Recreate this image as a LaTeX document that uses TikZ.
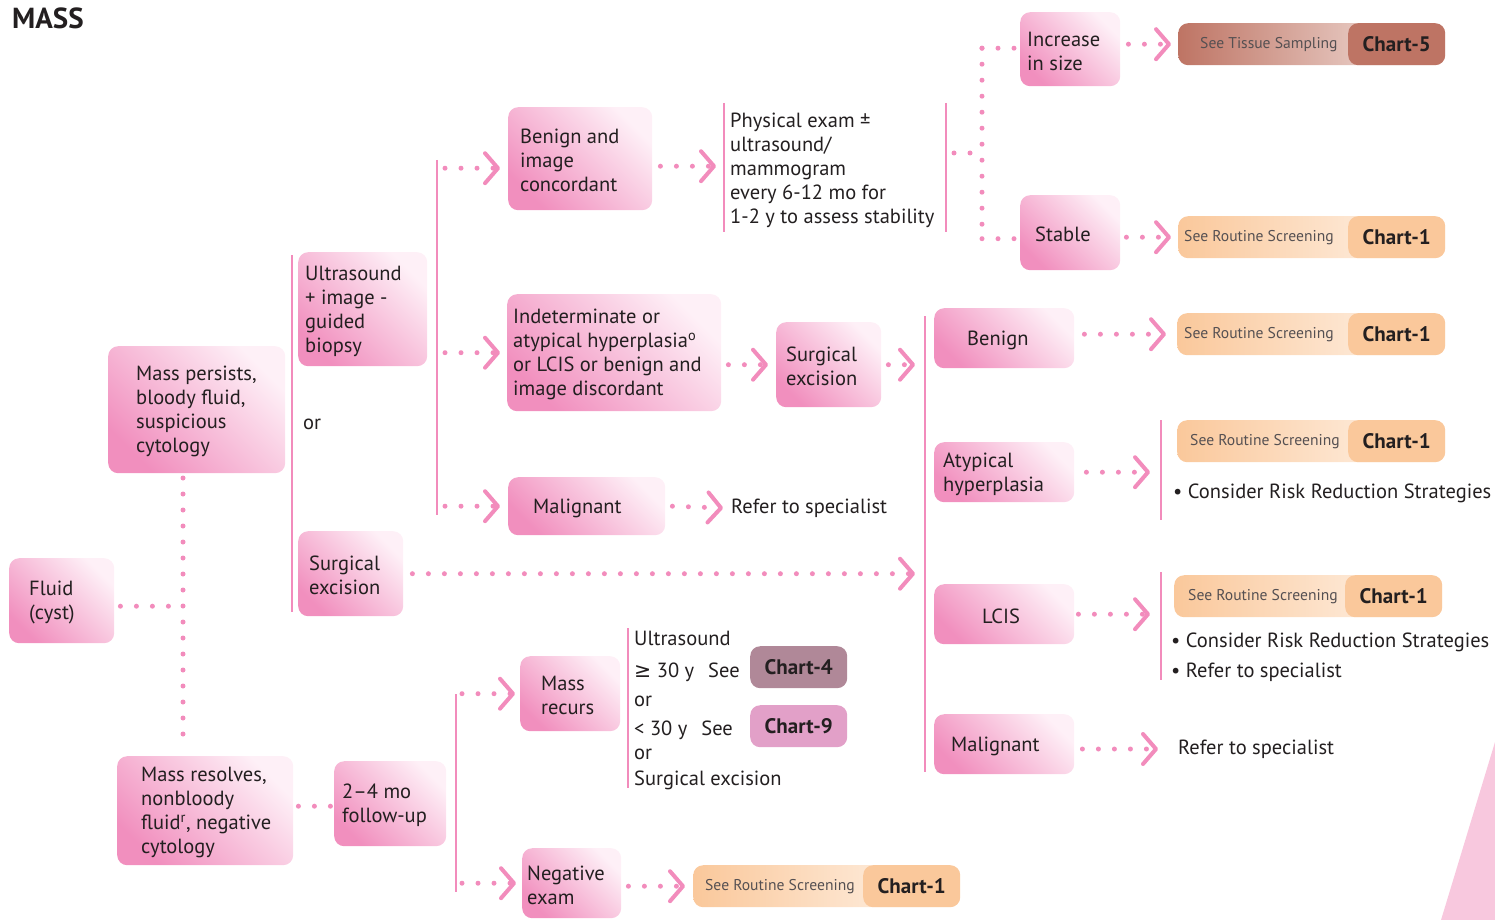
\documentclass[tikz,border=0pt]{standalone}
\usepackage{fontspec}
\setmainfont{PT Sans}
\newfontfamily\symfont{DejaVu Sans}
\usetikzlibrary{arrows.meta}
\definecolor{ink}{RGB}{35,31,32}
\definecolor{gray1}{RGB}{85,80,82}
\definecolor{lpink}{RGB}{242,140,188}
\definecolor{boxdark}{RGB}{241,143,190}
\definecolor{boxlight}{RGB}{254,240,247}
\definecolor{peach}{RGB}{250,200,155}
\definecolor{peachlight}{RGB}{255,246,238}
\definecolor{brownA}{RGB}{190,116,100}
\definecolor{brownlight}{RGB}{248,236,232}
\definecolor{mauve}{RGB}{176,136,152}
\definecolor{orchid}{RGB}{226,160,200}
\definecolor{tri}{RGB}{248,200,222}
\newcommand\myfont{\fontsize{20.5}{24}\selectfont}
\newcommand\mysmall{\fontsize{15.6}{18}\selectfont}
\newcommand\mytag{\fontsize{21}{22}\selectfont\bfseries}
\begin{document}
\begin{tikzpicture}[x=1pt,y=-1pt,
  pbox/.style={anchor=north west, rounded corners=10pt, bottom color=boxdark, top color=boxlight, shading angle=-45, inner sep=0pt},
  txt/.style={anchor=west, inner sep=0pt, font=\myfont, text=ink, align=left, yshift=-2pt},
  pillbase/.style={anchor=north west, rounded corners=10pt, minimum height=42, inner sep=0pt},
  ptxt/.style={anchor=west, inner sep=0pt, font=\mysmall, text=gray1},
  tagbox/.style={anchor=north east, rounded corners=10pt, minimum height=42, minimum width=97, inner sep=0pt, font=\mytag, text=ink},
  vline/.style={draw=lpink, line width=2.5pt},
  dots/.style={draw=lpink, line width=5pt, line cap=round, dash pattern=on 0pt off 16pt},
  darr/.style={dots, -{Straight Barb[length=13pt, width=30pt, line width=4pt, round]}}
]
\useasboundingbox (0,0) rectangle (1495,920);
\fill[tri] (1495,742) -- (1495,920) -- (1441,920) -- cycle;

\node[anchor=west, inner sep=0pt, font=\fontsize{29}{30}\selectfont\bfseries, text=ink] (title) at (12,18) {MASS};

% boxes
\node[pbox, minimum width=105, minimum height=85] (fluid) at (9,558) {};
\node[txt] (fluidT) at ([xshift=20pt]fluid.west) {Fluid\\(cyst)};
\node[pbox, minimum width=177, minimum height=127] (persists) at (108,346) {};
\node[txt] (persistsT) at ([xshift=28pt]persists.west) {Mass persists,\\bloody fluid,\\suspicious\\cytology};
\node[pbox, minimum width=176, minimum height=109] (resolves) at (117,756) {};
\node[txt] (resolvesT) at ([xshift=24pt]resolves.west) {Mass resolves,\\nonbloody\\fluid\textsuperscript{r}, negative\\cytology};
\node[pbox, minimum width=112, minimum height=85] (followup) at (334,761) {};
\node[txt] (followupT) at ([xshift=8pt]followup.west) {2--4 mo\\follow-up};
\node[pbox, minimum width=129, minimum height=114] (usb) at (298,252) {};
\node[txt] (usbT) at ([xshift=7pt]usb.west) {Ultrasound\\+ image -\\guided\\biopsy};
\node[txt] (or1) at (303,422) {or};
\node[pbox, minimum width=105, minimum height=85] (surgL) at (298,531) {};
\node[txt] (surgLT) at ([xshift=11pt]surgL.west) {Surgical\\excision};
\node[pbox, minimum width=144, minimum height=103] (bic) at (508,107) {};
\node[txt] (bicT) at ([xshift=12pt]bic.west) {Benign and\\image\\concordant};
\node[pbox, minimum width=214, minimum height=117] (indet) at (507,294) {};
\node[txt] (indetT) at ([xshift=6pt]indet.west) {Indeterminate or\\atypical hyperplasia\textsuperscript{o}\\or LCIS or benign and\\image discordant};
\node[pbox, minimum width=157, minimum height=58] (malig1) at (508,477) {};
\node[txt] (malig1T) at ([xshift=25pt]malig1.west) {Malignant};
\node[pbox, minimum width=105, minimum height=85] (surgM) at (776,322) {};
\node[txt] (surgMT) at ([xshift=10pt]surgM.west) {Surgical\\excision};
\node[txt] (ref1) at (731,506) {Refer to specialist};
\node[txt] (pe) at (730,168) {Physical exam ±\\ultrasound/\\mammogram\\every 6-12 mo for\\1-2 y to assess stability};
\node[pbox, minimum width=100, minimum height=74] (incr) at (1020,12) {};
\node[txt] (incrT) at ([xshift=7pt]incr.west) {Increase\\in size};
\node[pbox, minimum width=100, minimum height=75] (stable) at (1020,195) {};
\node[txt] (stableT) at ([xshift=15pt]stable.west) {Stable};
\node[pbox, minimum width=140, minimum height=60] (benign) at (934,308) {};
\node[txt] (benignT) at ([xshift=33pt]benign.west) {Benign};
\node[pbox, minimum width=140, minimum height=60] (atyp) at (934,442) {};
\node[txt] (atypT) at ([xshift=9pt]atyp.west) {Atypical\\hyperplasia};
\node[pbox, minimum width=140, minimum height=60] (lcis) at (934,584) {};
\node[txt] (lcisT) at ([xshift=48pt]lcis.west) {LCIS};
\node[pbox, minimum width=140, minimum height=60] (malig2) at (934,714) {};
\node[txt] (malig2T) at ([xshift=17pt]malig2.west) {Malignant};
\node[pbox, minimum width=100, minimum height=75] (recurs) at (520,656) {};
\node[txt] (recursT) at ([xshift=21pt]recurs.west) {Mass\\recurs};
\node[pbox, minimum width=99, minimum height=70] (negexam) at (522,848) {};
\node[txt] (negexamT) at ([xshift=5pt]negexam.west) {Negative\\exam};
\node[txt, anchor=north west] (ustext) at (634,629) {Ultrasound\\[8pt]{\symfont ≥} 30 y\hspace{14pt}See\\[5pt]or\\[5pt]< 30 y\hspace{14pt}See\\or\\[2pt]Surgical excision};
\node[tagbox, anchor=north west, fill=mauve] (c4) at (750,646) {Chart-4};
\node[tagbox, anchor=north west, fill=orchid] (c9) at (750,705) {Chart-9};
\node[txt] (ref2) at (1178,747) {Refer to specialist};
\node[txt] (crr1) at (1173,491) {• Consider Risk Reduction Strategies};
\node[txt] (crr2) at (1171,640) {• Consider Risk Reduction Strategies};
\node[txt] (ref3) at (1171,670) {• Refer to specialist};

% pills
\node[pillbase, left color=brownA, right color=brownlight, minimum width=267] (p5) at (1178,23) {};
\node[ptxt] (p5S) at ([xshift=22pt]p5.west) {See Tissue Sampling};
\node[tagbox, fill=brownA] (p5T) at (p5.north east) {Chart-5};
\node[pillbase, left color=peach, right color=peachlight, minimum width=267] (pst) at (1178,216) {};
\node[ptxt] (pstS) at ([xshift=6pt]pst.west) {See Routine Screening};
\node[tagbox, fill=peach] (pstT) at (pst.north east) {Chart-1};
\node[pillbase, left color=peach, right color=peachlight, minimum width=268] (pbn) at (1177,313) {};
\node[ptxt] (pbnS) at ([xshift=7pt]pbn.west) {See Routine Screening};
\node[tagbox, fill=peach] (pbnT) at (pbn.north east) {Chart-1};
\node[pillbase, left color=peach, right color=peachlight, minimum width=268] (pat) at (1177,420) {};
\node[ptxt] (patS) at ([xshift=13pt]pat.west) {See Routine Screening};
\node[tagbox, fill=peach] (patT) at (pat.north east) {Chart-1};
\node[pillbase, left color=peach, right color=peachlight, minimum width=268] (plc) at (1174,575) {};
\node[ptxt] (plcS) at ([xshift=14pt]plc.west) {See Routine Screening};
\node[tagbox, fill=peach] (plcT) at (plc.north east) {Chart-1};
\node[pillbase, left color=peach, right color=peachlight, minimum width=267] (png) at (693,865) {};
\node[ptxt] (pngS) at ([xshift=12pt]png.west) {See Routine Screening};
\node[tagbox, fill=peach] (pngT) at (png.north east) {Chart-1};

% line coordinates
\coordinate (vA1) at (292,255); \coordinate (vA2) at (292,612);
\coordinate (vB1) at (437,160); \coordinate (vB2) at (437,515);
\coordinate (vC1) at (724,103); \coordinate (vC2) at (724,232);
\coordinate (vD1) at (946,103); \coordinate (vD2) at (946,232);
\coordinate (vE1) at (925,316); \coordinate (vE2) at (925,772);
\coordinate (vF1) at (1161,420); \coordinate (vF2) at (1161,520);
\coordinate (vG1) at (1161,572); \coordinate (vG2) at (1161,680);
\coordinate (vH1) at (456,694); \coordinate (vH2) at (456,892);
\coordinate (vI1) at (628,628); \coordinate (vI2) at (628,788);
\coordinate (trunk1) at (183,478); \coordinate (trunk2) at (183,750);
\coordinate (hub) at (982,153);

\foreach \a/\b in {vA1/vA2, vB1/vB2, vC1/vC2, vD1/vD2, vE1/vE2, vF1/vF2, vG1/vG2, vH1/vH2, vI1/vI2}
  \draw[vline] (\a) -- (\b);

% dotted connectors without heads
\draw[dots] (trunk1) -- (trunk2);
\draw[dots] ([xshift=6pt,yshift=-5.5pt]fluid.east) -- ([yshift=-5.5pt]trunk1 |- fluid.east);
\draw[dots] ([xshift=5pt,yshift=4.5pt]resolves.east) -- ([xshift=-2pt,yshift=4.5pt]followup.west |- resolves.east);
\draw[dots] ([xshift=8pt]vD1 |- hub) -- (hub);
\draw[dots] ([yshift=1pt]hub |- incr.west) -- ([yshift=-6pt]hub |- stable.west);
\draw[dots] ([yshift=1pt]hub |- incr.west) -- ([xshift=-6pt,yshift=1pt]incr.west);
\draw[dots] ([yshift=-6pt]hub |- stable.west) -- ([xshift=-6pt,yshift=-6pt]stable.west);

% arrows
\draw[darr] ([xshift=8pt,yshift=-9.5pt]vB1 |- bic.west) -- ([xshift=-8pt,yshift=-9.5pt]bic.west);
\draw[darr] ([xshift=8pt]vB1 |- indet.west) -- ([xshift=-7pt]indet.west);
\draw[darr] ([xshift=8pt]vB1 |- malig1.west) -- ([xshift=-8pt]malig1.west);
\draw[darr] ([xshift=8pt,yshift=-7.5pt]bic.east) -- ([xshift=-8pt,yshift=-7.5pt]vC1 |- bic.east);
\draw[darr] ([xshift=7pt]indet.east |- surgM.west) -- ([xshift=-8pt]surgM.west);
\draw[darr] ([xshift=7pt]surgM.east) -- ([xshift=-10pt]vE1 |- surgM.east);
\draw[darr] ([xshift=9pt]surgL.east) -- ([xshift=-10pt]vE1 |- surgL.east);
\draw[darr] ([xshift=7pt]malig1.east) -- ([xshift=-8pt]ref1.west);
\draw[darr] ([xshift=8pt]incr.east |- p5.west) -- ([xshift=-7pt]p5.west);
\draw[darr] ([xshift=6pt]stable.east |- pst.west) -- ([xshift=-7pt]pst.west);
\draw[darr] ([xshift=10pt]benign.east |- pbn.west) -- ([xshift=-11pt]pbn.west);
\draw[darr] ([xshift=12pt]atyp.east) -- ([xshift=-11pt]vF1 |- atyp.east);
\draw[darr] ([xshift=4pt]lcis.east) -- ([xshift=-11pt]vG1 |- lcis.east);
\draw[darr] ([xshift=8pt]malig2.east |- ref2.west) -- ([xshift=-20pt]ref2.west);
\draw[darr] ([xshift=6pt]vH1 |- recurs.west) -- ([xshift=-5pt]recurs.west);
\draw[darr] ([xshift=6pt]vH1 |- negexam.west) -- ([xshift=-6pt]negexam.west);
\draw[darr] ([xshift=7pt]negexam.east |- png.west) -- ([xshift=-8pt]png.west);
\end{tikzpicture}
\end{document}
